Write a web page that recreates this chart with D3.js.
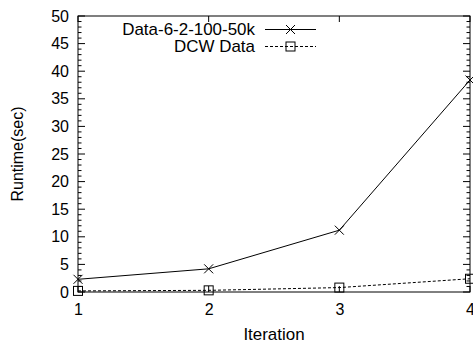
<!DOCTYPE html>
<html><head><meta charset="utf-8">
<script src="https://cdn.jsdelivr.net/npm/d3@7"></script>
<style>
body{margin:0;background:#fff;}
text{font-family:"Liberation Sans",Arial,Helvetica,sans-serif;fill:#000;}
</style></head>
<body>
<svg id="chart" width="473" height="345"></svg>
<script>
const iterations = [1, 2, 3, 4];
const seriesNames = ["Data-6-2-100-50k", "DCW Data"];
const dataLarge = [2.3, 4.2, 11.2, 38.4];
const dataDCW = [0.2, 0.3, 0.8, 2.4];
const yTicks = [0, 5, 10, 15, 20, 25, 30, 35, 40, 45, 50];
const xTicks = [1, 2, 3, 4];

const svg = d3.select("#chart");
const m = {l: 78, r: 3, t: 16, b: 53};
const W = 473, H = 345;
const x = d3.scaleLinear().domain([1, 4]).range([m.l, W - m.r]);
const y = d3.scaleLinear().domain([0, 50]).range([H - m.b, m.t]);
const fs = 16;
const sx = 1.06;

// Frame
svg.append("rect").attr("x", x(1)).attr("y", y(50))
  .attr("width", x(4) - x(1)).attr("height", y(0) - y(50))
  .attr("fill", "none").attr("stroke", "#000").attr("stroke-width", 1);

// Y axis labels
const gL = svg.append("g").attr("transform", `translate(${x(1)},0)`)
  .call(d3.axisLeft(y).tickValues(yTicks).tickSize(0).tickPadding(9));
gL.select(".domain").remove();
gL.selectAll(".tick line").remove();
gL.selectAll("text").attr("font-size", fs).attr("font-family", "Liberation Sans, Arial, sans-serif");

const tickG = svg.append("g").attr("stroke", "#000").attr("stroke-width", 1);
const minor = d3.range(0, 51, 1).filter(v => v % 5 !== 0);
yTicks.forEach(v => {
  tickG.append("line").attr("x1", x(1)).attr("x2", x(1) + 7).attr("y1", y(v)).attr("y2", y(v));
  tickG.append("line").attr("x1", x(4)).attr("x2", x(4) - 7).attr("y1", y(v)).attr("y2", y(v));
});
minor.forEach(v => {
  tickG.append("line").attr("x1", x(1)).attr("x2", x(1) + 3.5).attr("y1", y(v)).attr("y2", y(v));
  tickG.append("line").attr("x1", x(4)).attr("x2", x(4) - 3.5).attr("y1", y(v)).attr("y2", y(v));
});
xTicks.forEach(v => {
  tickG.append("line").attr("x1", x(v)).attr("x2", x(v)).attr("y1", y(0)).attr("y2", y(0) - 6);
  tickG.append("line").attr("x1", x(v)).attr("x2", x(v)).attr("y1", y(50)).attr("y2", y(50) + 6);
});

// X axis labels
const gB = svg.append("g").attr("transform", `translate(0,${y(0)})`)
  .call(d3.axisBottom(x).tickValues(xTicks).tickFormat(d3.format("d")).tickSize(0).tickPadding(12));
gB.select(".domain").remove();
gB.selectAll("text").attr("font-size", fs).attr("font-family", "Liberation Sans, Arial, sans-serif");

// Axis titles
svg.append("text").attr("transform", `translate(${(x(1) + x(4)) / 2},340) scale(${sx},1)`)
  .attr("text-anchor", "middle").attr("font-size", fs).text("Iteration");
svg.append("text").attr("transform", `translate(23,${(y(0) + y(50)) / 2}) rotate(-90)`)
  .attr("text-anchor", "middle").attr("font-size", fs).text("Runtime(sec)");

// Lines
const line = d3.line().x((d, i) => x(iterations[i])).y(d => y(d));
svg.append("path").datum(dataLarge).attr("d", line)
  .attr("fill", "none").attr("stroke", "#000").attr("stroke-width", 1);
svg.append("path").datum(dataDCW).attr("d", line)
  .attr("fill", "none").attr("stroke", "#000").attr("stroke-width", 1).attr("stroke-dasharray", "3,2");

function cross(g, cx, cy, s) {
  g.append("path").attr("d", `M${cx - s},${cy - s}L${cx + s},${cy + s}M${cx - s},${cy + s}L${cx + s},${cy - s}`)
    .attr("stroke", "#000").attr("stroke-width", 1).attr("fill", "none");
}
function square(g, cx, cy, s) {
  g.append("rect").attr("x", cx - s).attr("y", cy - s).attr("width", 2 * s).attr("height", 2 * s)
    .attr("stroke", "#000").attr("stroke-width", 1).attr("fill", "none");
}
const mk = svg.append("g");
dataLarge.forEach((d, i) => cross(mk, x(iterations[i]), y(d), 4.5));
dataDCW.forEach((d, i) => square(mk, x(iterations[i]), y(d), 4.5));

// Legend
const leg = svg.append("g");
const rows = [29.5, 46.5];
seriesNames.forEach((name, i) => {
  leg.append("text").attr("transform", `translate(255,${rows[i]}) scale(${sx},1)`).attr("dy", "0.35em")
    .attr("text-anchor", "end").attr("font-size", fs).text(name);
  const l = leg.append("line").attr("x1", 265).attr("x2", 316).attr("y1", rows[i]).attr("y2", rows[i])
    .attr("stroke", "#000").attr("stroke-width", 1);
  if (i === 1) l.attr("stroke-dasharray", "3,2");
  if (i === 0) cross(leg, 290.5, rows[i], 4.5); else square(leg, 290.5, rows[i], 4.5);
});
</script>
</body></html>
